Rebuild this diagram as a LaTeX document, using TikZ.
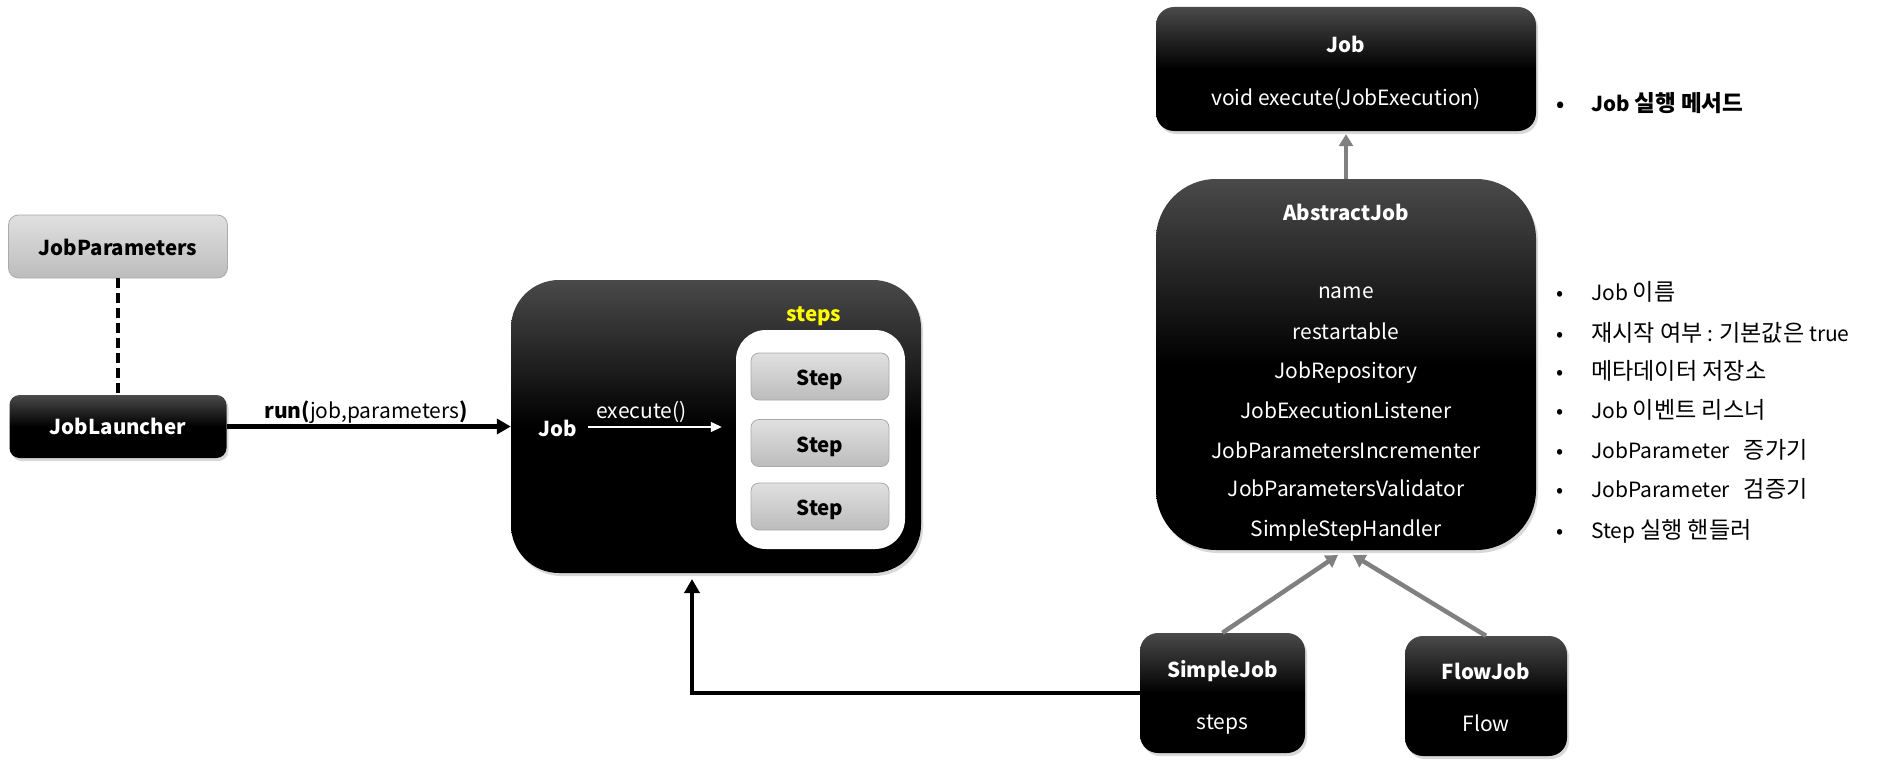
\documentclass[tikz,border=0pt]{standalone}
\usepackage{fontspec}
\setmainfont{Noto Sans CJK KR}
\newfontfamily\kr{Noto Sans CJK KR}[Scale=1.1]
\usetikzlibrary{arrows.meta,shadows}
\definecolor{boxtop}{RGB}{74,74,74}
\definecolor{graytop}{RGB}{224,224,224}
\definecolor{graybot}{RGB}{188,188,188}
\definecolor{grayline}{RGB}{170,170,170}
\definecolor{inhgray}{RGB}{128,128,128}
\definecolor{stepsyellow}{RGB}{255,255,0}
\newcommand{\bul}{\makebox[35pt][l]{•}}

\begin{document}
\begin{tikzpicture}[x=1pt, y=-1pt, >={Triangle[length=14pt,width=15pt]},
    font=\fontsize{21}{25}\selectfont,
    darkbox/.style={rounded corners=#1, top color=boxtop, bottom color=black, middle color=black,
      drop shadow={opacity=0.3, shadow xshift=2pt, shadow yshift=-3pt}},
    darkbox/.default=16pt,
    graybox/.style={rounded corners=#1, top color=graytop, bottom color=graybot,
      draw=grayline, line width=0.8pt, font=\fontsize{20.5}{25}\selectfont\bfseries,
      text height=18pt, text depth=0pt},
    graybox/.default=10pt,
    txt/.style={inner sep=0pt, text height=18pt, text depth=0pt},
    wtitle/.style={txt, text=white, font=\fontsize{20.5}{25}\selectfont\bfseries},
    witem/.style={txt, text=white},
    note/.style={txt, anchor=west},
    inh/.style={->, >={Triangle[length=12pt,width=14pt]}, draw=inhgray, line width=4.5pt}]
  % canvas
  \fill[white] (0,0) rectangle (1888,768);
  \useasboundingbox (0,0) rectangle (1888,768);
  % coordinates
  \coordinate (jobin) at (692,579);
  \coordinate (absleft) at (1338,555);
  \coordinate (absright) at (1353,555);
  % launcher side
  \node[graybox, minimum width=219pt, minimum height=63pt] (params) at (118,246.5) {JobParameters};
  \node[darkbox=10pt, minimum width=217pt, minimum height=63pt, text=white,
    font=\fontsize{20.5}{25}\selectfont\bfseries] (launcher) at (118,426.5) {JobLauncher};
  \draw[line width=4.5pt, dash pattern=on 10pt off 5pt] (params) -- (launcher);
  % job with steps
  \node[darkbox=48pt, minimum width=410pt, minimum height=293pt] (job) at (716,426.5) {};
  \node[fill=white, rounded corners=30pt, minimum width=169pt, minimum height=219pt] (steps) at (820.5,439.5) {};
  \node[wtitle, text=stepsyellow] (stepslabel) at (814,312) {steps};
  \node[graybox=8pt, minimum width=138pt, minimum height=47pt] (step1) at (820,376.5) {Step};
  \node[graybox=8pt, minimum width=138pt, minimum height=47pt] (step2) at (820,443) {Step};
  \node[graybox=8pt, minimum width=138pt, minimum height=47pt] (step3) at (820,506.5) {Step};
  \node[wtitle] (joblabel) at (558,427) {Job};
  \node[witem] (exec) at (641.5,409) {execute()};
  \draw[->, white, line width=1.3pt, >={Triangle[length=11pt,width=10pt]}, shorten <=11pt, shorten >=14pt]
    (joblabel.east) -- (joblabel.east -| steps.west);
  % run
  \draw[->, line width=4.5pt] (launcher) -- (job);
  \node[txt] (runlabel) at (366,409) {\textbf{run(}job,parameters\textbf{)}};
  % job interface
  \node[darkbox=18pt, minimum width=380pt, minimum height=124pt] (jobif) at (1346,69) {};
  \node[wtitle] (jobiftitle) at (1346,44) {Job};
  \node[witem] (jobifexec) at (1346,96) {void execute(JobExecution)};
  % abstract job
  \node[darkbox=60pt, minimum width=380pt, minimum height=371pt] (abstract) at (1346,364.5) {};
  \node[wtitle] (abstracttitle) at (1346,211) {AbstractJob};
  \node[witem] (aname) at (1346,289) {name};
  \node[witem] (arestart) at (1346,330) {restartable};
  \node[witem] (arepo) at (1346,369) {JobRepository};
  \node[witem] (alistener) at (1346,409) {JobExecutionListener};
  \node[witem] (aincr) at (1346,449) {JobParametersIncrementer};
  \node[witem] (avalid) at (1346,487) {JobParametersValidator};
  \node[witem] (ahandler) at (1346,527) {SimpleStepHandler};
  \draw[inh, shorten >=3pt] (abstract) -- (jobif);
  % implementations
  \node[darkbox=18pt, minimum width=165pt, minimum height=120pt] (simple) at (1222.5,693) {};
  \node[wtitle] (simpletitle) at (1222.5,668) {SimpleJob};
  \node[witem] (simplesteps) at (1222.5,720) {steps};
  \node[darkbox=18pt, minimum width=162pt, minimum height=120pt] (flow) at (1486,696) {};
  \node[wtitle] (flowtitle) at (1486,670) {FlowJob};
  \node[witem] (flowflow) at (1486,722) {Flow};
  \draw[inh] (simple.north) -- (absleft);
  \draw[inh] (flow.north) -- (absright);
  \draw[->, line width=4.5pt] (simple.west) -| (jobin);
  % notes
  \node[note, font=\fontsize{20.5}{25}\selectfont\bfseries] (n0) at (1556,102) {\bul Job {\kr 실행 메서드}};
  \node[note] (n1) at (1556,291) {\bul Job {\kr 이름}};
  \node[note] (n2) at (1556,332) {\bul {\kr 재시작 여부} : {\kr 기본값은} true};
  \node[note] (n3) at (1556,370) {\bul {\kr 메타데이터 저장소}};
  \node[note] (n4) at (1556,409) {\bul Job {\kr 이벤트 리스너}};
  \node[note] (n5) at (1556,449) {\bul JobParameter\hspace{14pt}{\kr 증가기}};
  \node[note] (n6) at (1556,488) {\bul JobParameter\hspace{14pt}{\kr 검증기}};
  \node[note] (n7) at (1556,529) {\bul Step {\kr 실행 핸들러}};
\end{tikzpicture}
\end{document}
